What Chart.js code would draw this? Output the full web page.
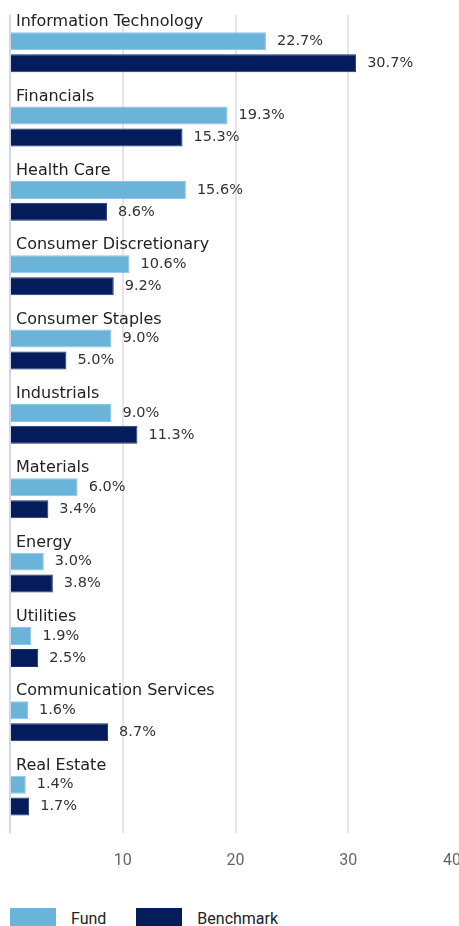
<!DOCTYPE html>
<html>
<head>
<meta charset="utf-8">
<script src="https://cdn.jsdelivr.net/npm/chart.js@4.4.1/dist/chart.umd.min.js"></script>
<style>
  html, body { margin: 0; padding: 0; background: #fff; overflow: hidden; }
  #wrap { position: relative; width: 464px; height: 884px; }
  #legend { position: absolute; left: 10px; top: 908px; display: flex; align-items: center;
    font-family: Roboto, sans-serif; font-size: 16px; color: #222; }
  #legend .box { width: 46px; height: 20px; margin-right: 15px; }
  #legend .item { display: flex; align-items: center; margin-right: 30px; }
</style>
</head>
<body>
<div id="wrap"><canvas id="chart"></canvas></div>
<div id="legend"></div>
<script>
(function () {
  "use strict";

  const categories = [
    "Information Technology", "Financials", "Health Care", "Consumer Discretionary",
    "Consumer Staples", "Industrials", "Materials", "Energy", "Utilities",
    "Communication Services", "Real Estate"
  ];
  const fundValues = [22.7, 19.3, 15.6, 10.6, 9.0, 9.0, 6.0, 3.0, 1.9, 1.6, 1.4];
  const benchmarkValues = [30.7, 15.3, 8.6, 9.2, 5.0, 11.3, 3.4, 3.8, 2.5, 8.7, 1.7];
  const seriesNames = ["Fund", "Benchmark"];
  const xTicks = [0, 10, 20, 30, 40];

  const FUND_COLOR = "#6ab4da";
  const BENCH_COLOR = "#041c5c";

  // category names above each group + value labels at bar ends
  const labelsPlugin = {
    id: "groupLabels",
    afterDatasetsDraw(chart) {
      const ctx = chart.ctx;
      const yScale = chart.scales.y;
      ctx.save();
      ctx.textBaseline = "middle";
      ctx.textAlign = "left";
      ctx.fillStyle = "#222";
      ctx.font = "16px 'DejaVu Sans', sans-serif";
      categories.forEach((name, i) => {
        ctx.fillText(name, 16, yScale.getPixelForValue(i) - 30);
      });
      ctx.fillStyle = "#333";
      ctx.font = "14.5px 'DejaVu Sans', sans-serif";
      chart.data.datasets.forEach((ds, di) => {
        chart.getDatasetMeta(di).data.forEach((bar, i) => {
          ctx.fillText(ds.data[i].toFixed(1) + "%", bar.x + 11, bar.y);
        });
      });
      ctx.restore();
    }
  };

  new Chart(document.getElementById("chart"), {
    type: "bar",
    data: {
      labels: categories,
      datasets: [
        {
          label: seriesNames[0],
          data: fundValues,
          backgroundColor: FUND_COLOR,
          borderColor: "#8cc6e4",
          borderWidth: 1,
          categoryPercentage: 0.59,
          barPercentage: 0.82
        },
        {
          label: seriesNames[1],
          data: benchmarkValues,
          backgroundColor: BENCH_COLOR,
          borderColor: "#1c3270",
          borderWidth: 1,
          categoryPercentage: 0.59,
          barPercentage: 0.82
        }
      ]
    },
    options: {
      indexAxis: "y",
      responsive: true,
      maintainAspectRatio: false,
      animation: false,
      layout: { padding: { left: 10, right: 2, top: 15, bottom: 10 } },
      plugins: {
        legend: { display: false },
        tooltip: { enabled: false }
      },
      scales: {
        y: { display: false },
        x: {
          min: xTicks[0],
          max: xTicks[xTicks.length - 1],
          afterBuildTicks(axis) {
            axis.ticks = xTicks.map(v => ({ value: v }));
          },
          border: { display: false },
          grid: {
            drawTicks: true,
            tickLength: 16,
            tickColor: "rgba(0,0,0,0)",
            lineWidth: 2,
            color: c => (c.tick && c.tick.value === 0 ? "#d2d6ea" : "#e6e6e6")
          },
          ticks: {
            align: "inner",
            padding: 3,
            color: "#666",
            font: { family: "Roboto", size: 16 },
            callback: v => (v === 0 ? "" : String(v))
          }
        }
      }
    },
    plugins: [labelsPlugin]
  });

  const legend = document.getElementById("legend");
  [FUND_COLOR, BENCH_COLOR].forEach((color, i) => {
    const item = document.createElement("div");
    item.className = "item";
    item.innerHTML = `<span class="box" style="background:${color}"></span><span>${seriesNames[i]}</span>`;
    legend.appendChild(item);
  });
})();
</script>
</body>
</html>
